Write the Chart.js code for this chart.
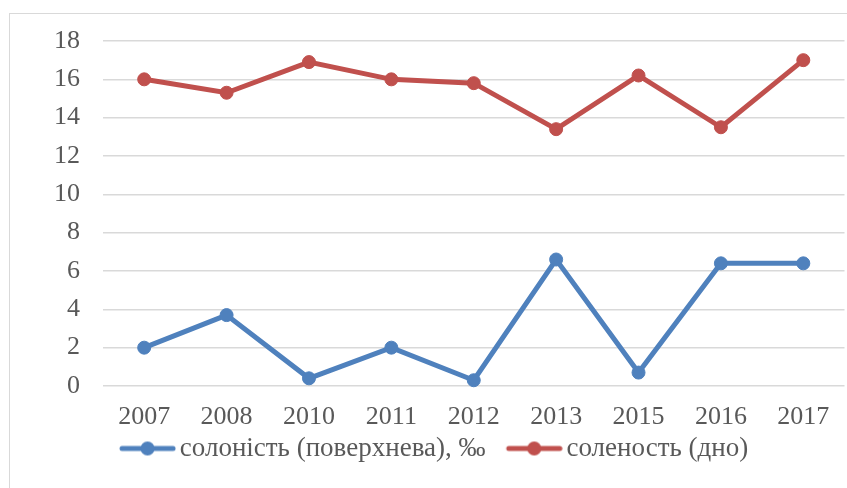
<!DOCTYPE html>
<html><head><meta charset="utf-8">
<script src="https://cdn.jsdelivr.net/npm/chart.js@4"></script>
<style>
html,body{margin:0;padding:0;background:#fff;overflow:hidden;width:847px;height:488px;}
#frame{position:absolute;left:9px;top:13px;width:900px;height:500px;border-left:1px solid #d9d9d9;border-top:1px solid #d9d9d9;}
#c{position:absolute;left:0;top:0;width:852px;height:488px;}
</style></head><body>
<div id="frame"></div>
<canvas id="c" width="852" height="488"></canvas>
<script>
const years = ['2007','2008','2010','2011','2012','2013','2015','2016','2017'];
const surfaceSalinity = [2.0, 3.7, 0.4, 2.0, 0.3, 6.6, 0.7, 6.4, 6.4];
const bottomSalinity = [16.0, 15.3, 16.9, 16.0, 15.8, 13.4, 16.2, 13.5, 17.0];
const seriesNames = ['солоність (поверхнева), ‰', 'соленость (дно)'];
const yTicks = [0, 2, 4, 6, 8, 10, 12, 14, 16, 18];

const BLUE = '#4F81BD', RED = '#C0504D';
const FONT = {family: '"Liberation Serif", "Times New Roman", serif', size: 26};
const LEGEND_FONT = {family: '"Liberation Serif", "Times New Roman", serif', size: 27};

function marker(color) {
  const c = document.createElement('canvas');
  c.width = 82; c.height = 16;
  const x = c.getContext('2d');
  x.strokeStyle = color; x.lineWidth = 5; x.lineCap = 'round';
  x.beginPath(); x.moveTo(28, 8); x.lineTo(79, 8); x.stroke();
  x.fillStyle = color;
  x.beginPath(); x.arc(53.5, 8, 7, 0, Math.PI * 2); x.fill();
  return c;
}
const markers = [marker(BLUE), marker(RED)];

Chart.defaults.font = FONT;
Chart.defaults.color = '#595959';

new Chart(document.getElementById('c'), {
  type: 'line',
  data: {
    labels: years,
    datasets: [
      {label: seriesNames[0], data: surfaceSalinity, borderColor: BLUE, backgroundColor: BLUE,
       pointBackgroundColor: BLUE, pointBorderColor: BLUE, pointRadius: 6.5, pointBorderWidth: 1,
       pointStyle: 'circle', borderWidth: 5, tension: 0, clip: false},
      {label: seriesNames[1], data: bottomSalinity, borderColor: RED, backgroundColor: RED,
       pointBackgroundColor: RED, pointBorderColor: RED, pointRadius: 6.5, pointBorderWidth: 1,
       pointStyle: 'circle', borderWidth: 5, tension: 0, clip: false}
    ]
  },
  options: {
    responsive: false,
    animation: false,
    devicePixelRatio: 1,
    layout: {padding: {left: 0, right: 0, top: 41, bottom: 16}},
    plugins: {
      tooltip: {enabled: false},
      legend: {
        position: 'bottom',
        labels: {
          usePointStyle: true,
          pointStyleWidth: 62.5,
          padding: 5,
          font: LEGEND_FONT,
          color: '#595959',
          generateLabels: (chart) => chart.data.datasets.map((d, i) => ({
            text: d.label, pointStyle: markers[i], fillStyle: d.borderColor,
            strokeStyle: d.borderColor, lineWidth: 0, hidden: false, datasetIndex: i,
            fontColor: '#595959'
          }))
        }
      }
    },
    scales: {
      x: {
        offset: true,
        grid: {display: false, drawTicks: false},
        border: {display: false},
        ticks: {padding: 16, font: FONT, color: '#595959', maxRotation: 0},
        afterFit: (s) => { s.height = 44; }
      },
      y: {
        min: 0, max: 18,
        afterBuildTicks: (s) => { s.ticks = yTicks.map(v => ({value: v})); },
        grid: {color: '#D9D9D9', lineWidth: 1.5, drawTicks: false},
        border: {display: false},
        ticks: {padding: 23, font: FONT, color: '#595959'},
        afterFit: (s) => { s.width = 103; }
      }
    }
  }
});
</script>
</body></html>
